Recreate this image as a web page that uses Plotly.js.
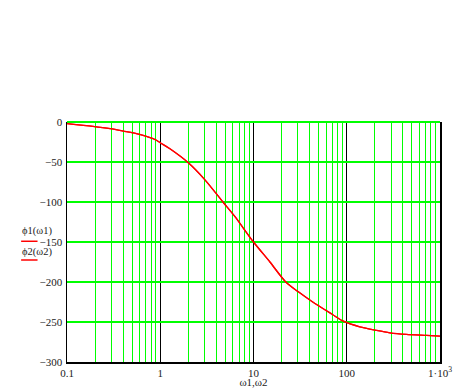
<!DOCTYPE html>
<html>
<head>
<meta charset="utf-8">
<script src="https://cdn.plot.ly/plotly-3.0.1.min.js"></script>
<style>html,body{margin:0;padding:0;background:#fff;}#chart{width:454px;height:388px;}</style>
</head>
<body>
<div id="chart"></div>
<script>
// frequency values (omega1 = omega2)
const omega = [0.1, 0.19, 0.29, 0.4, 0.6, 0.9, 1.0, 1.27, 2, 3, 4.7, 6.3, 10, 15, 22.2, 30, 42, 69, 92, 138, 209, 290, 435, 716, 1000];
// phase values (degrees)
const phi1 = [-2, -5.5, -8.4, -11.4, -15.6, -22.5, -26, -33.5, -51, -72, -100, -118, -150, -175, -200, -212, -224, -240, -249, -256, -260.5, -263.5, -265.5, -266.8, -267.7];
const phi2 = phi1.slice();
const xMajorTicks = [0.1, 1, 10, 100, 1000];
const xMajorLabels = ['0.1', '1', '10', '100', '1·10<sup>3</sup>'];
const minorMultipliers = [2, 3, 4, 5, 6, 7, 8, 9];
const decades = [0.1, 1, 10, 100];
const yTicks = [0, -50, -100, -150, -200, -250, -300];
const legendLabels = ['ϕ1(ω1)', 'ϕ2(ω2)'];

const xMinorTicks = [];
decades.forEach(d => minorMultipliers.forEach(m => xMinorTicks.push(+(d * m).toPrecision(3))));

const font = {family: '"Liberation Serif", "Times New Roman", serif', size: 11, color: '#222'};
const legendFont = {family: '"Liberation Serif", "Times New Roman", serif', size: 10.5, color: '#222'};

const traces = [
  {x: omega, y: phi1, type: 'scatter', mode: 'lines', line: {color: '#ff0000', width: 1.3, shape: 'spline', smoothing: 0.8}, name: legendLabels[0], showlegend: false, hoverinfo: 'skip'},
  {x: omega, y: phi2, type: 'scatter', mode: 'lines', line: {color: '#ff0000', width: 1.3, shape: 'spline', smoothing: 0.8}, name: legendLabels[1], showlegend: false, hoverinfo: 'skip'}
];

const layout = {
  width: 454, height: 388,
  margin: {l: 67, r: 14, t: 122, b: 26},
  paper_bgcolor: '#fff', plot_bgcolor: '#fff',
  font: font,
  showlegend: false,
  xaxis: {
    type: 'log', range: [-1, 3],
    tickmode: 'array', tickvals: xMajorTicks, ticktext: xMajorLabels,
    showgrid: true, gridcolor: '#000', gridwidth: 1,
    minor: {tickmode: 'array', tickvals: xMinorTicks, showgrid: true, gridcolor: '#00ff00', gridwidth: 1, ticks: ''},
    showline: true, linecolor: '#000', linewidth: 1.5, mirror: false,
    ticks: '', zeroline: false,
    tickfont: font,
    title: {text: 'ω1,ω2', font: font, standoff: 4}
  },
  yaxis: {
    range: [-300, 0],
    tickmode: 'array', tickvals: yTicks,
    showgrid: true, gridcolor: '#00ff00', gridwidth: 1.2, griddash: 'solid',
    zeroline: true, zerolinecolor: '#00ff00', zerolinewidth: 2,
    showline: true, linecolor: '#000', linewidth: 1.5, mirror: true,
    ticks: '', ticklabelstandoff: 1,
    tickfont: font
  },
  annotations: [
    {xref: 'paper', yref: 'paper', x: -0.126, y: 0.545, xanchor: 'left', yanchor: 'middle', text: legendLabels[0], showarrow: false, font: legendFont},
    {xref: 'paper', yref: 'paper', x: -0.126, y: 0.46, xanchor: 'left', yanchor: 'middle', text: legendLabels[1], showarrow: false, font: legendFont}
  ],
  shapes: [
    {type: 'line', xref: 'paper', yref: 'paper', x0: -0.123, x1: -0.079, y0: 0.503, y1: 0.503, line: {color: '#ff0000', width: 1.5}},
    {type: 'line', xref: 'paper', yref: 'paper', x0: -0.123, x1: -0.079, y0: 0.425, y1: 0.425, line: {color: '#ff0000', width: 1.5}}
  ]
};

Plotly.newPlot('chart', traces, layout, {staticPlot: true, displayModeBar: false});
</script>
</body>
</html>
